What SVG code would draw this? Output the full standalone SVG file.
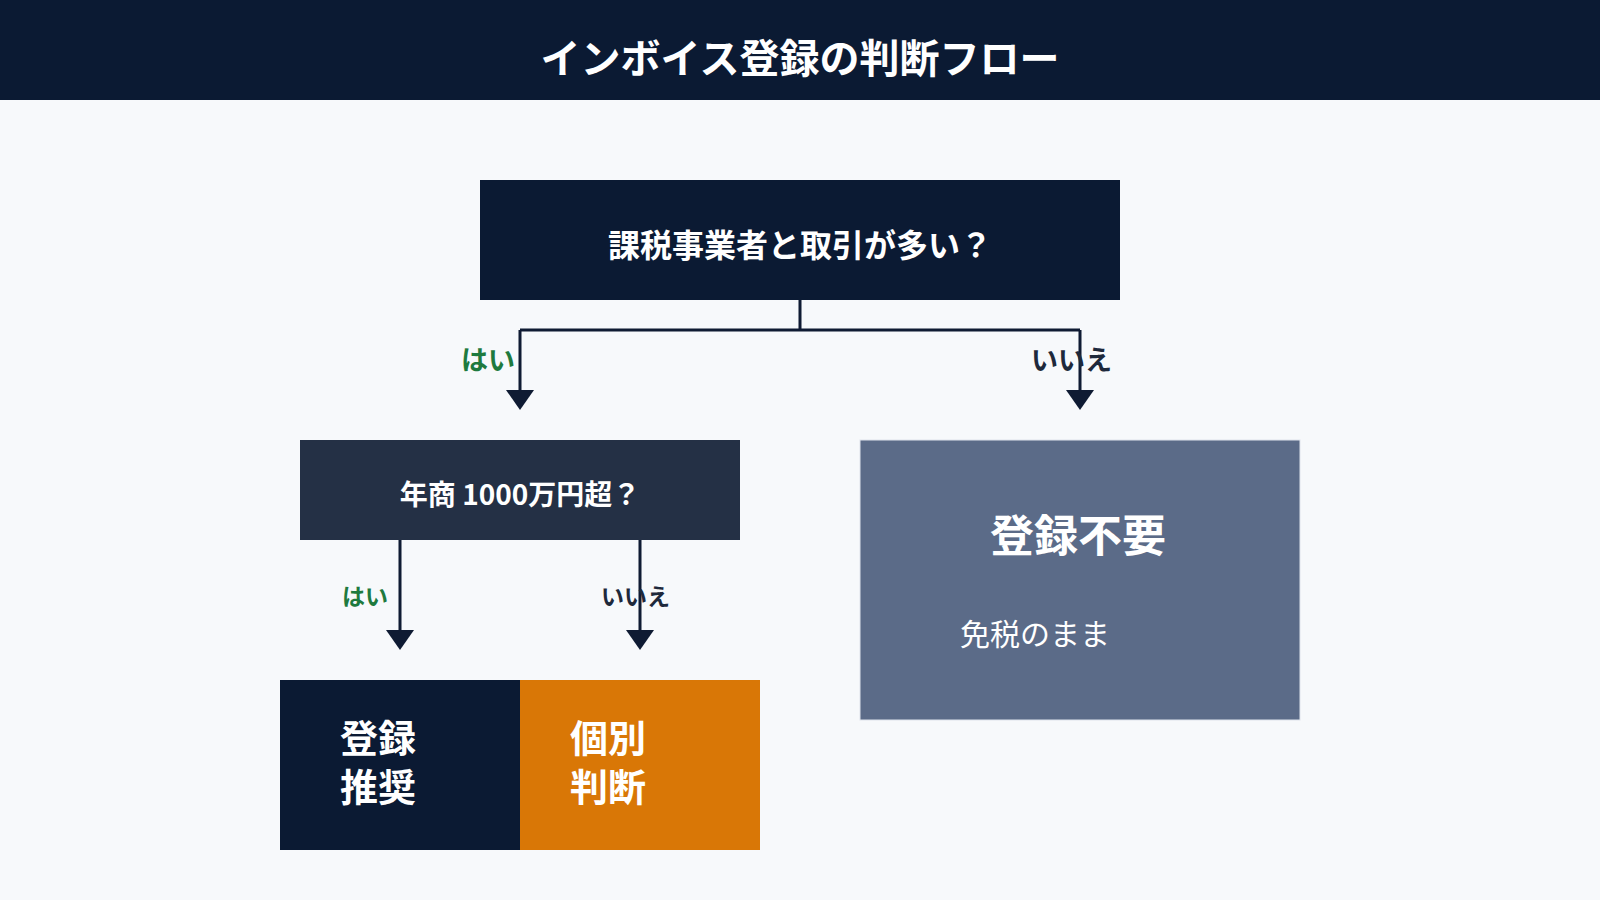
<svg xmlns="http://www.w3.org/2000/svg" width="1600" height="900" viewBox="0 0 1600 900">
  <defs>
    <style>
      text { font-family: "Noto Sans CJK JP", "Noto Sans", sans-serif; }
      .w { fill: #ffffff; font-weight: 700; }
      .conn { stroke: #0f1b33; stroke-width: 3; fill: none; }
      .head { fill: #0f1b33; }
      .yes { fill: #1e7a3e; font-weight: 700; }
      .no { fill: #1e293b; font-weight: 700; }
    </style>
  </defs>
  <rect x="0" y="0" width="1600" height="900" fill="#f7f9fb"/>
  <g id="header">
    <rect x="0" y="0" width="1600" height="100" fill="#0b1a33"/>
    <text x="800" y="73" class="w" font-size="40" text-anchor="middle">インボイス登録の判断フロー</text>
  </g>
  <g id="connectors">
    <path class="conn" d="M800 300 V330 M520 330 H1080 M520 330 V392 M1080 330 V392"/>
    <polygon class="head" points="506,390 534,390 520,410"/>
    <polygon class="head" points="1066,390 1094,390 1080,410"/>
    <path class="conn" d="M400 540 V632 M640 540 V632"/>
    <polygon class="head" points="386,630 414,630 400,650"/>
    <polygon class="head" points="626,630 654,630 640,650"/>
    <text x="515" y="370" class="yes" font-size="27" text-anchor="end">はい</text>
    <text x="1031" y="370" class="no" font-size="27">いいえ</text>
    <text x="388" y="605" class="yes" font-size="23" text-anchor="end">はい</text>
    <text x="601" y="605" class="no" font-size="23">いいえ</text>
  </g>
  <g id="q1">
    <rect x="480" y="180" width="640" height="120" fill="#0b1a33"/>
    <text x="800" y="257" class="w" font-size="32" text-anchor="middle">課税事業者と取引が多い？</text>
  </g>
  <g id="q2">
    <rect x="300" y="440" width="440" height="100" fill="#243045"/>
    <text x="520" y="505" class="w" font-size="28" text-anchor="middle">年商 1000万円超？</text>
  </g>
  <g id="no-reg">
    <rect x="860" y="440" width="440" height="280" fill="#5b6b88" stroke="#dfe4ec" stroke-width="1"/>
    <text x="1078" y="552" class="w" font-size="44" text-anchor="middle">登録不要</text>
    <text x="960" y="645" fill="#ffffff" font-size="30">免税のまま</text>
  </g>
  <g id="reg">
    <rect x="280" y="680" width="240" height="170" fill="#0b1a33"/>
    <text class="w" font-size="38"><tspan x="340" y="752">登録</tspan><tspan x="340" y="801">推奨</tspan></text>
  </g>
  <g id="case">
    <rect x="520" y="680" width="240" height="170" fill="#d97706"/>
    <text class="w" font-size="38"><tspan x="570" y="752">個別</tspan><tspan x="570" y="801">判断</tspan></text>
  </g>
</svg>
